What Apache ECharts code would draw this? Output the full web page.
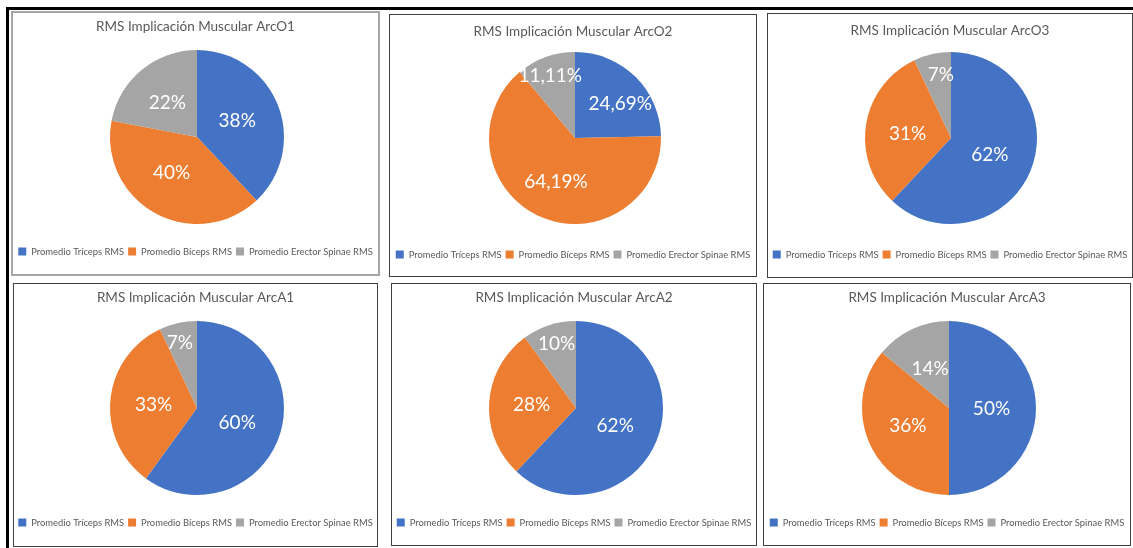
<!DOCTYPE html>
<html>
<head>
<meta charset="utf-8">
<script src="https://cdn.jsdelivr.net/npm/echarts@6/dist/echarts.min.js"></script>
<style>
  html, body { margin: 0; padding: 0; background: #ffffff; }
  .page { position: relative; width: 1133px; height: 548px; overflow: hidden; background: #fff; }
  .bar-top { position: absolute; left: 6px; top: 7px; width: 1127px; height: 3px; background: #000; }
  .bar-left { position: absolute; left: 6px; top: 7px; width: 3px; height: 541px; background: #000; }
  .panel { position: absolute; box-sizing: border-box; border: 1px solid #404040; background: #fff; }
  .panel.light { border: 2px solid #a6a6a6; }
  .panel .chart { position: absolute; left: 0; top: 0; width: 100%; height: 100%; }
</style>
</head>
<body>
<div class="page" id="page">
  <div class="bar-top"></div>
  <div class="bar-left"></div>
</div>
<script>
// datos de cada grafico
const chartNames = ['ArcO1', 'ArcO2', 'ArcO3', 'ArcA1', 'ArcA2', 'ArcA3'];
const categories = ['Promedio Tríceps RMS', 'Promedio Bíceps RMS', 'Promedio Erector Spinae RMS'];
const triceps = [38, 24.69, 62, 60, 62, 50];
const biceps = [40, 64.19, 31, 33, 28, 36];
const erector = [22, 11.11, 7, 7, 10, 14];

const colors = ['#4472C4', '#ED7D31', '#A5A5A5'];

// posicion de cada recuadro, centro del pie, titulo, leyenda y desplazamiento de etiquetas
const panels = [
  { l: 11,  t: 11,  w: 369, h: 265, cx: 184, cy: 124, r: 87, ty: 16, ly: 239, cls: 'light', off: [[-3, 1], [-3, -5], [0, 2]] },
  { l: 389, t: 14,  w: 368, h: 263, cx: 185, cy: 123, r: 86, ty: 19, ly: 240, off: [[13, -1], [0, 2], [-9, -19]] },
  { l: 767, t: 13,  w: 366, h: 265, cx: 183, cy: 124, r: 86, ty: 19, ly: 241, off: [[-4, 0], [2, 3], [0, -18]] },
  { l: 13,  t: 283, w: 365, h: 264, cx: 183, cy: 124, r: 87, ty: 16, ly: 239, off: [[-4, 1], [3, 1], [-7, -20]] },
  { l: 391, t: 283, w: 366, h: 263, cx: 184, cy: 124, r: 87, ty: 16, ly: 239, off: [[-4, 1], [2, 0], [-5, -20]] },
  { l: 763, t: 283, w: 368, h: 263, cx: 185, cy: 124, r: 87, ty: 16, ly: 239, off: [[-4, 1], [1, -2], [1, 3]] }
];

function fmt(v) {
  return String(v).replace('.', ',') + '%';
}

const page = document.getElementById('page');

chartNames.forEach(function (name, i) {
  const p = panels[i];
  const box = document.createElement('div');
  box.className = 'panel' + (p.cls ? ' ' + p.cls : '');
  box.style.left = p.l + 'px';
  box.style.top = p.t + 'px';
  box.style.width = p.w + 'px';
  box.style.height = p.h + 'px';
  const inner = document.createElement('div');
  inner.className = 'chart';
  box.appendChild(inner);
  page.appendChild(box);

  const values = [triceps[i], biceps[i], erector[i]];
  const chart = echarts.init(inner, null, { renderer: 'canvas' });
  chart.setOption({
    animation: false,
    color: colors,
    title: {
      text: 'RMS Implicación Muscular ' + name,
      left: 'center',
      top: p.ty - 9,
      padding: 0,
      textStyle: { color: '#595959', fontSize: 13.5, fontWeight: 'normal', fontFamily: 'Lato' }
    },
    legend: {
      data: categories,
      left: 'center',
      top: p.ly - 5,
      width: 400,
      padding: 0,
      itemWidth: 8,
      itemHeight: 8,
      itemGap: 4,
      icon: 'rect',
      selectedMode: false,
      textStyle: { color: '#595959', fontSize: 9.4, fontFamily: 'Lato' }
    },
    series: [{
      type: 'pie',
      center: [p.cx, p.cy],
      radius: p.r,
      startAngle: 90,
      clockwise: true,
      silent: true,
      labelLayout: { hideOverlap: false },
      label: {
        show: true,
        position: 'inside',
        color: '#ffffff',
        fontSize: 19,
        fontFamily: 'Lato',
        formatter: function (d) { return fmt(d.value); }
      },
      labelLine: { show: false },
      itemStyle: { borderWidth: 0 },
      data: categories.map(function (c, k) {
        return { name: c, value: values[k], label: { offset: p.off[k] } };
      })
    }]
  });
});
</script>
</body>
</html>
